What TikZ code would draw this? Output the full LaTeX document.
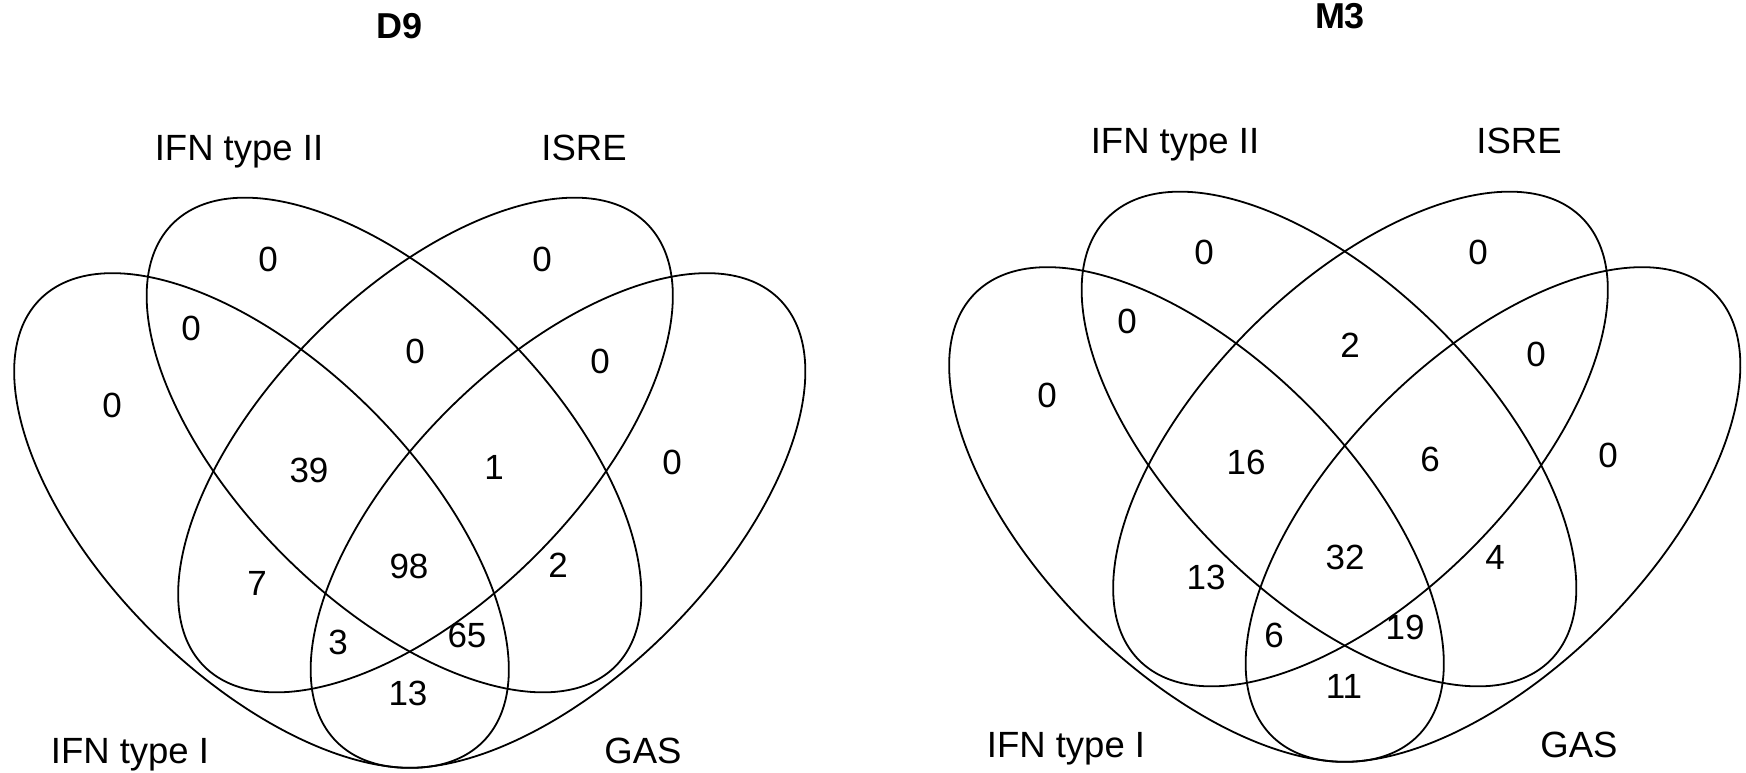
\documentclass[tikz,border=0pt]{standalone}
\usepackage{fontspec}
\setmainfont{Liberation Sans}
\begin{document}
\begin{tikzpicture}[x=1pt,y=-1pt,
  venn/.style={line width=1.8pt, black},
  num/.style={font=\fontsize{35}{42}\selectfont, inner sep=0pt, anchor=center},
  setlabel/.style={font=\fontsize{36.5}{44}\selectfont, anchor=base, inner sep=0pt},
  vtitle/.style={font=\fontsize{36}{43}\selectfont\bfseries, anchor=base, inner sep=0pt}]
\useasboundingbox[fill=white] (0,0) rectangle (1746,772);

% ---------- left diagram: D9 ----------
\begin{scope}
  \draw[venn, shift={(261.5,520.5)}, rotate=-45] (0,0) ellipse (313 and 156);
  \draw[venn, shift={(394,445)}, rotate=-45] (0,0) ellipse (313 and 156);
  \draw[venn, shift={(425.5,445)}, rotate=45] (0,0) ellipse (313 and 156);
  \draw[venn, shift={(558,520.5)}, rotate=45] (0,0) ellipse (313 and 156);
\end{scope}
\node[vtitle] (d9title) at (400,38) {D9};
\node[setlabel] (d9l2) at (239,160) {IFN type II};
\node[setlabel] (d9isre) at (584,160) {ISRE};
\node[setlabel] (d9l1) at (130,763) {IFN type I};
\node[setlabel] (d9gas) at (643,763) {GAS};
\node[num] (d9b) at (268,259) {0};
\node[num] (d9c) at (542,259) {0};
\node[num] (d9ab) at (191,328) {0};
\node[num] (d9bc) at (415,351) {0};
\node[num] (d9cd) at (600,361) {0};
\node[num] (d9a) at (112,405) {0};
\node[num] (d9abc) at (309,470) {39};
\node[num] (d9bcd) at (494,467) {1};
\node[num] (d9d) at (672,462) {0};
\node[num] (d9abcd) at (409,566) {98};
\node[num] (d9ac) at (257,583) {7};
\node[num] (d9bd) at (558,565) {2};
\node[num] (d9acd) at (338,642) {3};
\node[num] (d9abd) at (467,635) {65};
\node[num] (d9ad) at (408,693) {13};

% ---------- right diagram: M3 ----------
\begin{scope}[shift={(935,-6)}]
  \draw[venn, shift={(261.5,520.5)}, rotate=-45] (0,0) ellipse (313 and 156);
  \draw[venn, shift={(394,445)}, rotate=-45] (0,0) ellipse (313 and 156);
  \draw[venn, shift={(425.5,445)}, rotate=45] (0,0) ellipse (313 and 156);
  \draw[venn, shift={(558,520.5)}, rotate=45] (0,0) ellipse (313 and 156);
\end{scope}
\node[vtitle] (m3title) at (1340,28) {M3};
\node[setlabel] (m3l2) at (1175,153) {IFN type II};
\node[setlabel] (m3isre) at (1519,153) {ISRE};
\node[setlabel] (m3l1) at (1066,757) {IFN type I};
\node[setlabel] (m3gas) at (1579,757) {GAS};
\node[num] (m3b) at (1204,252) {0};
\node[num] (m3c) at (1478,252) {0};
\node[num] (m3ab) at (1127,321) {0};
\node[num] (m3bc) at (1350,345) {2};
\node[num] (m3cd) at (1536,354) {0};
\node[num] (m3a) at (1047,395) {0};
\node[num] (m3abc) at (1246,462) {16};
\node[num] (m3bcd) at (1430,459) {6};
\node[num] (m3d) at (1608,455) {0};
\node[num] (m3abcd) at (1345,557) {32};
\node[num] (m3ac) at (1206,577) {13};
\node[num] (m3bd) at (1495,557) {4};
\node[num] (m3acd) at (1274,635) {6};
\node[num] (m3abd) at (1405,627) {19};
\node[num] (m3ad) at (1344,686) {11};
\end{tikzpicture}
\end{document}
